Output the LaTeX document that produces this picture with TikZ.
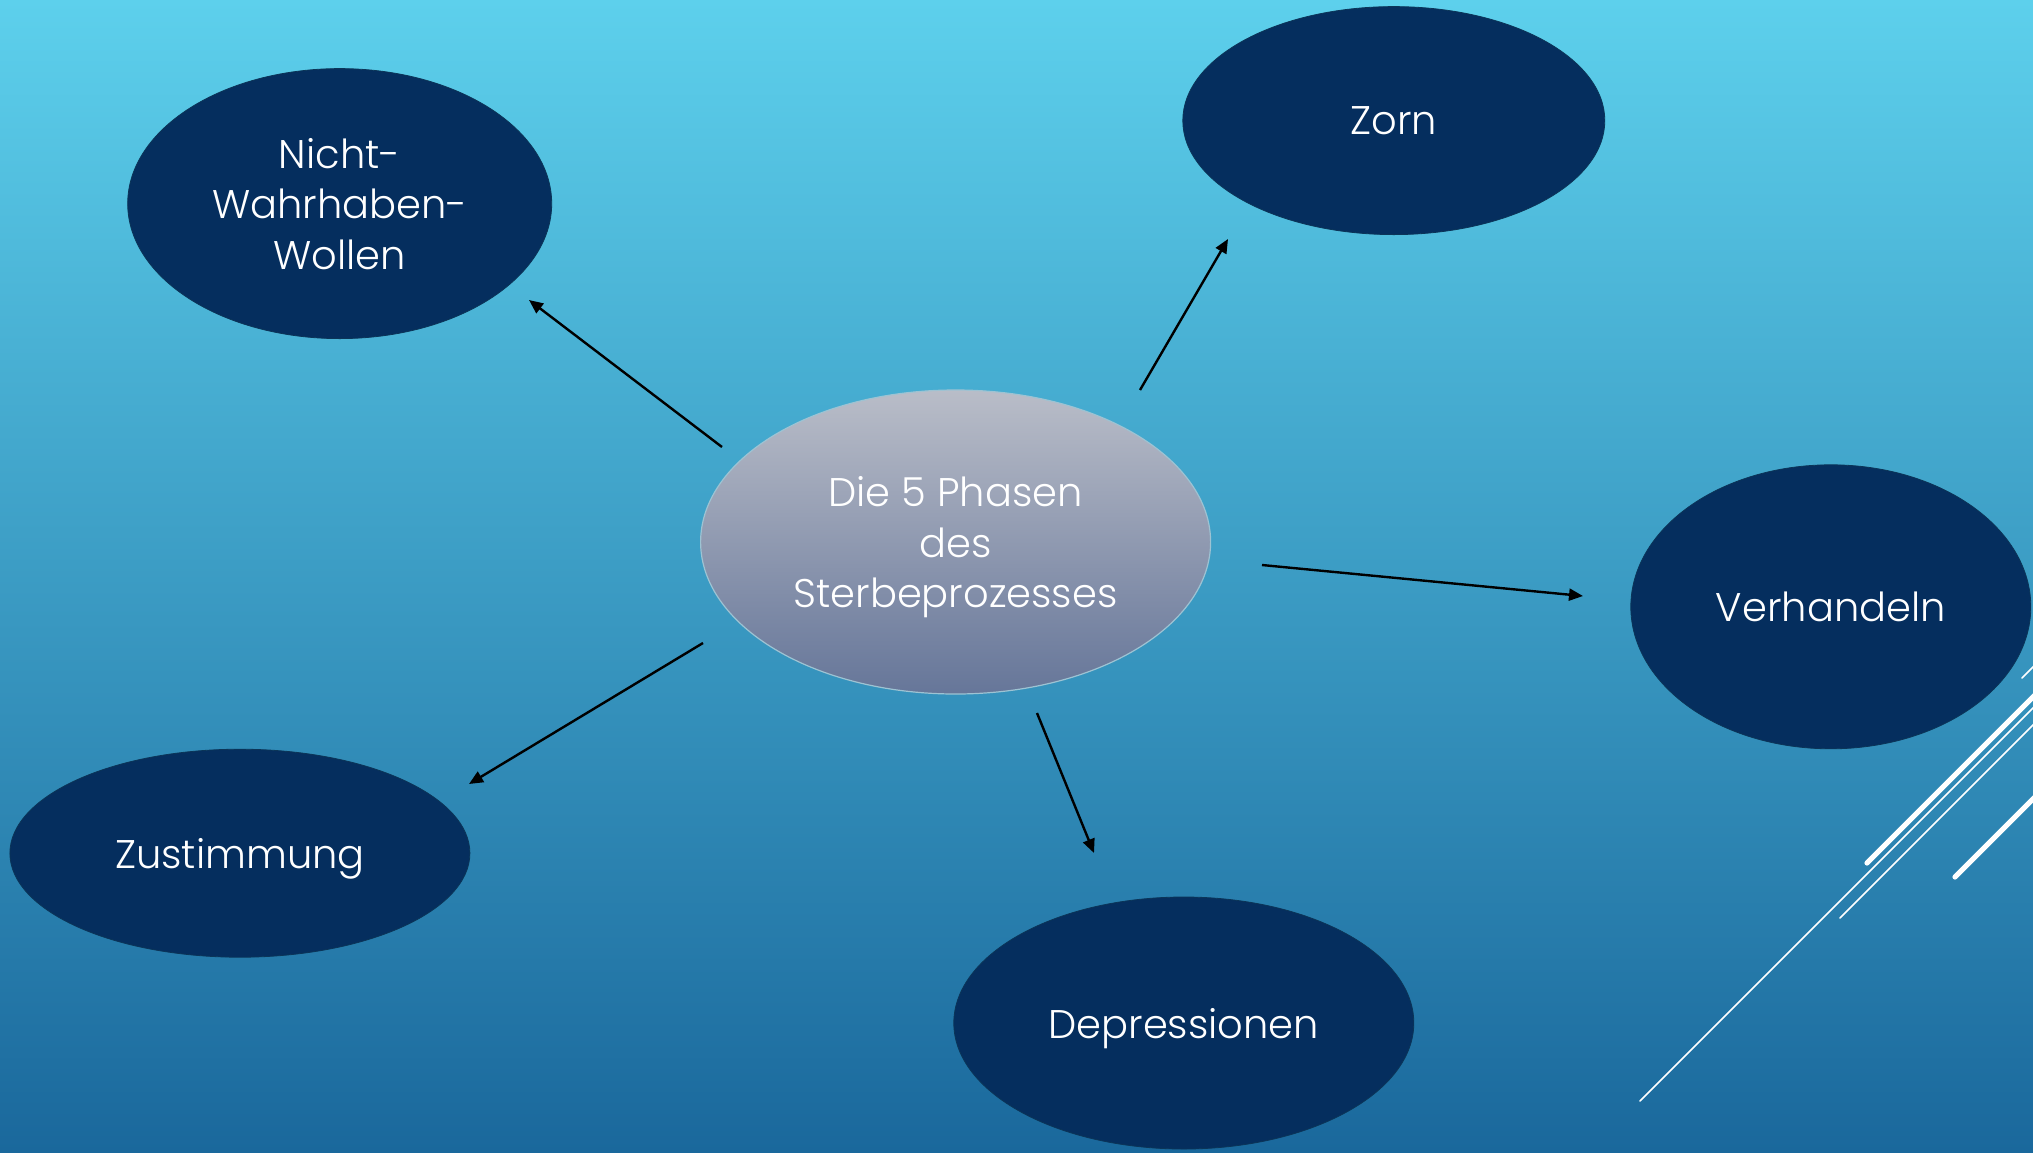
\documentclass[tikz,border=0pt]{standalone}
\usepackage{fontspec}
\setmainfont{Poppins Light}
\usetikzlibrary{shapes.geometric,arrows.meta}
\definecolor{bgtop}{HTML}{5DD0EC}
\definecolor{bgbot}{HTML}{1A689C}
\definecolor{phase}{HTML}{052E5E}
\definecolor{phaseline}{HTML}{0B3558}
\definecolor{midtop}{HTML}{B9BDC8}
\definecolor{midbot}{HTML}{667699}
\tikzset{
  phasebox/.style={ellipse, fill=phase, draw=phaseline, line width=0.4pt, inner sep=0pt,
    text=white, align=center, text depth=0pt, font=\fontsize{20}{25.3}\selectfont},
  centerbox/.style={ellipse, top color=midtop, bottom color=midbot, draw=midtop!70!bgtop, line width=0.6pt,
    inner sep=0pt, text=white, align=center, text depth=0pt, font=\fontsize{20}{25.3}\selectfont},
  linkarrow/.style={draw=black, line width=1.2pt, -{Triangle[length=7pt,width=6pt]}},
  deco/.style={draw=white, line cap=round}
}
\begin{document}
\begin{tikzpicture}[x=0.5pt,y=-0.5pt]
\useasboundingbox (0,0) rectangle (2033,1152);
\shade[top color=bgtop, bottom color=bgbot] (0,0) rectangle (2033,1152);
% decorative lines
\draw[deco, line width=0.8pt] (1640,1101) -- (2040,701);
\draw[deco, line width=0.8pt] (1840,918) -- (2040,718);
\draw[deco, line width=2.6pt] (1867,863) -- (2040,690);
\draw[deco, line width=2.6pt] (1955,877) -- (2040,792);
\draw[deco, line width=0.8pt] (2022,678) -- (2040,660);
% nodes
\node[centerbox, minimum width=255pt, minimum height=152pt] (c) at (955.6,542) {Die 5 Phasen\\des\\Sterbeprozesses};
\node[phasebox, minimum width=212pt, minimum height=135pt] (n) at (339.7,203.6) {Nicht-\\Wahrhaben-\\Wollen};
\node[phasebox, minimum width=211pt, minimum height=114pt] (z) at (1393.8,120.6) {Zorn};
\node[phasebox, minimum width=200pt, minimum height=142pt] (v) at (1830.8,606.8) {Verhandeln};
\node[phasebox, minimum width=230pt, minimum height=126pt] (d) at (1183.8,1023) {Depressionen};
\node[phasebox, minimum width=230pt, minimum height=104pt] (u) at (239.9,853.2) {Zustimmung};
% connector end points
\coordinate (cn) at (722,447);   \coordinate (ne) at (529,300);
\coordinate (cz) at (1140,390);  \coordinate (ze) at (1228,239);
\coordinate (cv) at (1262,565);  \coordinate (ve) at (1583,596);
\coordinate (cd) at (1037,713);  \coordinate (de) at (1094,853);
\coordinate (cu) at (703,643);   \coordinate (ue) at (469,784);
\draw[linkarrow] (cn) -- (ne);
\draw[linkarrow] (cz) -- (ze);
\draw[linkarrow] (cv) -- (ve);
\draw[linkarrow] (cd) -- (de);
\draw[linkarrow] (cu) -- (ue);
\end{tikzpicture}
\end{document}
